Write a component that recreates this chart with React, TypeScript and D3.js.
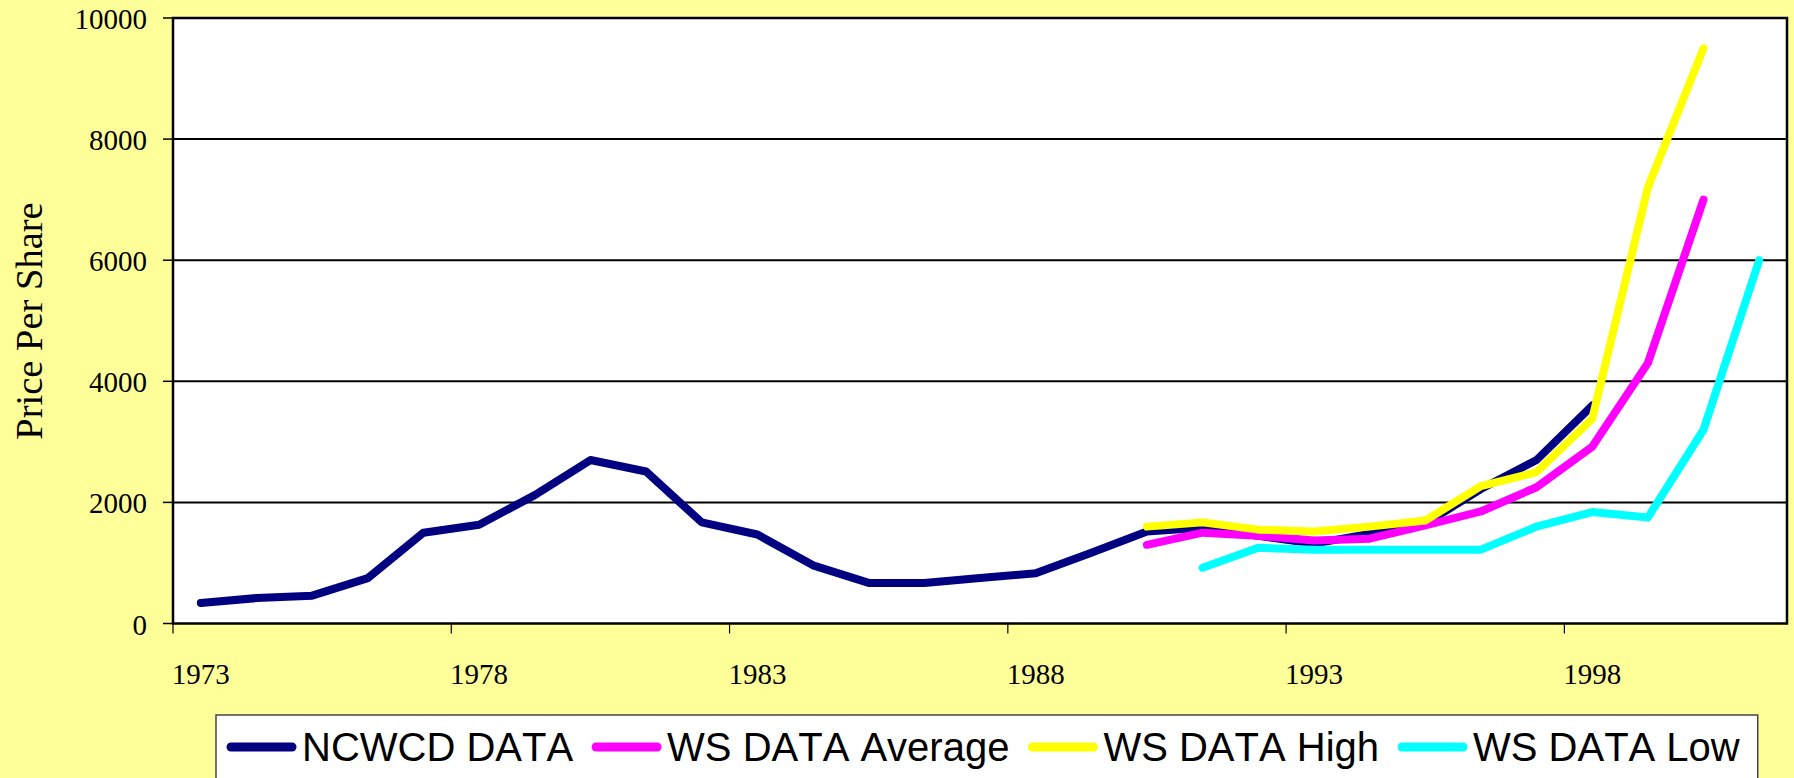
import React, { useEffect, useRef } from "react";
import * as d3 from "d3";

const years: number[] = [
  1973, 1974, 1975, 1976, 1977, 1978, 1979, 1980, 1981, 1982,
  1983, 1984, 1985, 1986, 1987, 1988, 1989, 1990, 1991, 1992,
  1993, 1994, 1995, 1996, 1997, 1998, 1999, 2000, 2001,
];

const ncwcdData: (number | null)[] = [
  340, 420, 460, 750, 1500, 1630, 2120, 2700, 2510, 1670,
  1470, 960, 670, 670, 750, 830, 1170, 1520, 1580, 1450,
  1320, 1480, 1650, 2220, 2700, 3600, null, null, null,
];

const wsAverage: (number | null)[] = [
  null, null, null, null, null, null, null, null, null, null,
  null, null, null, null, null, null, null, 1300, 1500, 1450,
  1370, 1400, 1620, 1850, 2250, 2920, 4300, 7000, null,
];

const wsHigh: (number | null)[] = [
  null, null, null, null, null, null, null, null, null, null,
  null, null, null, null, null, null, null, 1600, 1670, 1550,
  1520, 1600, 1700, 2270, 2500, 3380, 7200, 9500, null,
];

const wsLow: (number | null)[] = [
  null, null, null, null, null, null, null, null, null, null,
  null, null, null, null, null, null, null, null, 920, 1250,
  1220, 1220, 1220, 1220, 1600, 1840, 1750, 3200, 6000,
];

const seriesNames: string[] = ["NCWCD DATA", "WS DATA Average", "WS DATA High", "WS DATA Low"];
const seriesColors: string[] = ["#000080", "#FF00FF", "#FFFF00", "#00FFFF"];
const yTicks: number[] = [0, 2000, 4000, 6000, 8000, 10000];
const xTickLabels: number[] = [1973, 1978, 1983, 1988, 1993, 1998];

const W = 1794;
const H = 778;

export default function App() {
  const ref = useRef<SVGSVGElement | null>(null);

  useEffect(() => {
    const svg = d3.select(ref.current);
    svg.selectAll("*").remove();

    const left = 173, right = 1787, top = 18, bottom = 623.5;
    const serif = "'Liberation Serif', 'Times New Roman', serif";
    const sans = "'Liberation Sans', Arial, sans-serif";

    svg.append("rect").attr("width", W).attr("height", H).attr("fill", "#FFFF99");

    const x = d3.scaleBand<number>().domain(years).range([left, right]).padding(0);
    const y = d3.scaleLinear().domain([0, 10000]).range([bottom, top]);
    const cx = (yr: number) => (x(yr) as number) + x.bandwidth() / 2;

    // plot area
    svg.append("rect")
      .attr("x", left).attr("y", top)
      .attr("width", right - left).attr("height", bottom - top)
      .attr("fill", "#ffffff");

    // gridlines
    svg.append("g").selectAll("line").data(yTicks.filter((t) => t > 0)).join("line")
      .attr("x1", left).attr("x2", right)
      .attr("y1", (d) => y(d)).attr("y2", (d) => y(d))
      .attr("stroke", "#000").attr("stroke-width", 2);

    // y tick marks and labels
    svg.append("g").selectAll("line").data(yTicks).join("line")
      .attr("x1", left - 10).attr("x2", left)
      .attr("y1", (d) => y(d)).attr("y2", (d) => y(d))
      .attr("stroke", "#000").attr("stroke-width", 1.5);
    svg.append("g").selectAll("text").data(yTicks).join("text")
      .attr("x", 147).attr("y", (d) => y(d) + 11)
      .attr("text-anchor", "end")
      .attr("font-family", serif).attr("font-size", 29)
      .style("font-kerning", "none")
      .attr("fill", "#000")
      .text((d) => String(d));

    // x tick marks at category boundaries every 5
    const boundaryYears = years.filter((_, i) => i % 5 === 0);
    svg.append("g").selectAll("line").data(boundaryYears).join("line")
      .attr("x1", (d) => x(d) as number).attr("x2", (d) => x(d) as number)
      .attr("y1", bottom).attr("y2", bottom + 10)
      .attr("stroke", "#000").attr("stroke-width", 1.2);
    svg.append("g").selectAll("text").data(xTickLabels).join("text")
      .attr("x", (d) => cx(d)).attr("y", 684)
      .attr("text-anchor", "middle")
      .attr("font-family", serif).attr("font-size", 29)
      .style("font-kerning", "none")
      .attr("fill", "#000")
      .text((d) => String(d));

    // y axis title
    svg.append("text")
      .attr("transform", "translate(42,321) rotate(-90)")
      .attr("text-anchor", "middle")
      .attr("font-family", serif).attr("font-size", 38.5)
      .style("font-kerning", "none")
      .attr("fill", "#000")
      .text("Price Per Share");

    // series lines
    const allSeries = [ncwcdData, wsAverage, wsHigh, wsLow];
    const line = d3.line<[number, number | null]>()
      .defined((d) => d[1] !== null)
      .x((d) => cx(d[0]))
      .y((d) => y(d[1] as number));
    allSeries.forEach((vals, i) => {
      const pts = years.map((yr, j) => [yr, vals[j]] as [number, number | null]);
      svg.append("path")
        .attr("d", line(pts))
        .attr("fill", "none")
        .attr("stroke", seriesColors[i])
        .attr("stroke-width", 8)
        .attr("stroke-linejoin", "round")
        .attr("stroke-linecap", "round");
    });

    // plot border
    svg.append("rect")
      .attr("x", left).attr("y", top)
      .attr("width", right - left).attr("height", bottom - top)
      .attr("fill", "none").attr("stroke", "#000").attr("stroke-width", 2.5);

    // legend
    const lg = svg.append("g");
    const box = lg.append("rect")
      .attr("x", 216).attr("y", 715)
      .attr("height", 90)
      .attr("fill", "#fff").attr("stroke", "#444").attr("stroke-width", 1.5);
    let cur = 231;
    let lastEnd = cur;
    seriesNames.forEach((name, i) => {
      lg.append("line")
        .attr("x1", cur).attr("x2", cur + 61)
        .attr("y1", 747).attr("y2", 747)
        .attr("stroke", seriesColors[i]).attr("stroke-width", 9)
        .attr("stroke-linecap", "round");
      const t = lg.append("text")
        .attr("x", cur + 71).attr("y", 760.5)
        .attr("font-family", sans).attr("font-size", 40)
        .style("font-kerning", "none")
        .attr("fill", "#000")
        .text(name);
      const tw = (t.node() as SVGTextElement).getComputedTextLength();
      lastEnd = cur + 71 + tw;
      cur = lastEnd + 23;
    });
    box.attr("width", lastEnd + 18 - 216);
  }, []);

  return (
    <svg
      ref={ref}
      width={W}
      height={H}
      style={{ position: "absolute", left: 0, top: 0, display: "block" }}
    />
  );
}
